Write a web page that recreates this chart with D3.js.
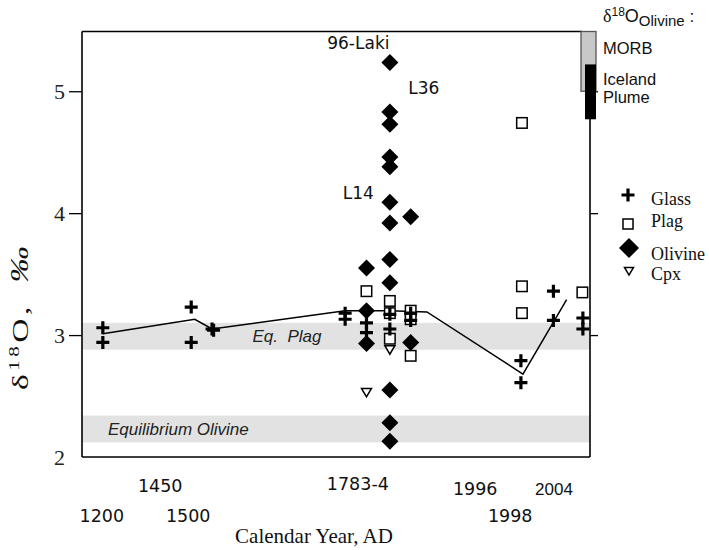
<!DOCTYPE html>
<html><head><meta charset="utf-8">
<script src="https://cdn.jsdelivr.net/npm/d3@7"></script>
<style>body{margin:0;background:#fff}svg{display:block}</style>
</head><body>
<script>
// ---- data (x = position along the nonlinear year axis, 0..100 plot units) ----
const glassX = [4.1, 4.1, 21.5, 21.5, 25.6, 25.9, 51.8, 51.8, 56.0, 56.0, 60.6, 60.6, 64.7, 64.7, 86.4, 86.4, 92.8, 92.8, 98.6, 98.6];
const glassY = [3.06, 2.94, 3.23, 2.94, 3.05, 3.04, 3.18, 3.13, 3.10, 3.02, 3.17, 3.05, 3.18, 3.12, 2.79, 2.61, 3.36, 3.12, 3.14, 3.05];
const plagX = [56.0, 60.6, 60.6, 60.6, 64.7, 64.7, 64.7, 86.6, 86.6, 86.6, 98.5];
const plagY = [3.36, 3.28, 3.18, 2.97, 3.20, 3.13, 2.83, 4.74, 3.40, 3.18, 3.35];
const olivineX = [60.6, 60.6, 60.6, 60.6, 60.6, 60.6, 60.6, 60.6, 60.6, 60.6, 60.6, 60.6, 56.0, 56.0, 56.0, 64.7, 64.7];
const olivineY = [5.235, 4.83, 4.73, 4.46, 4.38, 4.09, 3.92, 3.62, 3.43, 2.55, 2.28, 2.13, 3.55, 3.20, 2.93, 3.97, 2.94];
const cpxX = [60.6, 56.0];
const cpxY = [2.88, 2.53];
const meanX = [4.1, 22.2, 25.6, 51.8, 56.0, 60.6, 67.9, 86.8, 95.4];
const meanY = [3.01, 3.13, 3.05, 3.20, 3.20, 3.20, 3.19, 2.68, 3.29];
const yearLabels = ["1200", "1450", "1500", "1783-4", "1996", "1998", "2004"];
const yearLabelX = [3.9, 15.4, 20.9, 54.3, 77.4, 84.3, 92.9];
const yearLabelRow = [1, 0, 1, 0, 0, 1, 0];
const yTicks = [2, 3, 4, 5];
const eqPlag = [2.88, 3.10];
const eqOlivine = [2.12, 2.34];
const morbRange = [5.0, 5.49];
const icelandRange = [4.77, 5.22];
const sampleLabels = ["96-Laki", "L36", "L14"];
const sampleLabelX = [54.4, 67.3, 54.4];
const sampleLabelY = [5.35, 4.98, 4.12];
const legendNames = ["Glass", "Plag", "Olivine", "Cpx"];

// ---- layout ----
const W = 709, H = 550;
const svg = d3.select("body").append("svg").attr("width", W).attr("height", H);
const x = d3.scaleLinear().domain([0, 100]).range([82, 590]);
const y = d3.scaleLinear().domain([2, 5.49]).range([457, 31.5]);
const serif = "'Liberation Serif','Times New Roman',serif";
const sans = "'Liberation Sans',Arial,sans-serif";
const dv = "'DejaVu Sans',Verdana,sans-serif";

// bands
[[eqPlag, "Eq.  Plag", 287, "middle"], [eqOlivine, "Equilibrium Olivine", 108, "start"]].forEach(([r, t, tx, anc]) => {
  svg.append("rect").attr("x", x(0)).attr("width", x(100) - x(0))
    .attr("y", y(r[1])).attr("height", y(r[0]) - y(r[1])).attr("fill", "#e2e2e2");
  svg.append("text").attr("x", tx).attr("y", (y(r[0]) + y(r[1])) / 2 + 6)
    .attr("text-anchor", anc).attr("font-family", sans).attr("font-style", "italic")
    .attr("font-size", 17).attr("fill", "#222").style("white-space", "pre").text(t);
});

// mean line
svg.append("path").datum(d3.range(meanX.length))
  .attr("d", d3.line().x(i => x(meanX[i])).y(i => y(meanY[i])))
  .attr("fill", "none").attr("stroke", "#000").attr("stroke-width", 1.5);

// marker shapes
function drawCross(g, cx, cy, s) {
  g.append("path").attr("d", `M${cx - s / 2},${cy}H${cx + s / 2}M${cx},${cy - s / 2}V${cy + s / 2}`)
    .attr("stroke", "#000").attr("stroke-width", 3.2).attr("fill", "none");
}
function drawSquare(g, cx, cy, s) {
  g.append("rect").attr("x", cx - s / 2).attr("y", cy - s / 2).attr("width", s).attr("height", s)
    .attr("fill", "#fff").attr("stroke", "#000").attr("stroke-width", 1.5);
}
function drawDiamond(g, cx, cy, s) {
  const h = s / 2;
  g.append("path").attr("d", `M${cx},${cy - h}L${cx + h},${cy}L${cx},${cy + h}L${cx - h},${cy}Z`).attr("fill", "#000");
}
function drawTri(g, cx, cy, s) {
  const h = s / 2;
  g.append("path").attr("d", `M${cx - h},${cy - h * 0.8}L${cx + h},${cy - h * 0.8}L${cx},${cy + h * 0.9}Z`)
    .attr("fill", "#fff").attr("stroke", "#000").attr("stroke-width", 1.5);
}
const gm = svg.append("g");
plagX.forEach((v, i) => drawSquare(gm, x(v), y(plagY[i]), 10.5));
olivineX.forEach((v, i) => drawDiamond(gm, x(v), y(olivineY[i]), 17));
cpxX.forEach((v, i) => drawTri(gm, x(v), y(cpxY[i]), 10));
glassX.forEach((v, i) => drawCross(gm, x(v), y(glassY[i]), 13));

// frame / axes
const frame = svg.append("g").attr("stroke", "#000").attr("stroke-width", 1.6).attr("fill", "none");
frame.append("line").attr("x1", x(0)).attr("x2", x(0)).attr("y1", y(5.49)).attr("y2", y(2));
frame.append("line").attr("x1", x(0)).attr("x2", x(100)).attr("y1", y(2)).attr("y2", y(2));
frame.append("line").attr("x1", x(0)).attr("x2", 582).attr("y1", y(5.49)).attr("y2", y(5.49));
frame.append("line").attr("x1", x(100)).attr("x2", x(100)).attr("y1", y(5.49)).attr("y2", y(2));

const yl = svg.append("g").attr("transform", `translate(${x(0)},0)`)
  .call(d3.axisLeft(y).tickValues(yTicks).tickSize(13).tickPadding(4).tickFormat(d3.format("d")));
yl.select(".domain").remove();
yl.selectAll(".tick line").attr("stroke-width", 1.3).attr("display", d => d === 2 ? "none" : null);
yl.selectAll(".tick text").attr("font-family", serif).attr("font-size", 22).attr("fill", "#222");

const yr = svg.append("g").attr("transform", `translate(${x(100)},0)`)
  .call(d3.axisRight(y).tickValues([3, 4, 5]).tickSize(8).tickFormat(""));
yr.select(".domain").remove();
yr.selectAll(".tick line").attr("stroke-width", 1.3);

// MORB / Iceland bars
svg.append("rect").attr("x", 581).attr("width", 15).attr("y", y(morbRange[1])).attr("height", y(morbRange[0]) - y(morbRange[1]))
  .attr("fill", "#c8c8c8").attr("stroke", "#555").attr("stroke-width", 1.3);
svg.append("rect").attr("x", 585).attr("width", 11).attr("y", y(icelandRange[1])).attr("height", y(icelandRange[0]) - y(icelandRange[1]))
  .attr("fill", "#000");

const tr = svg.append("text").attr("x", 603).attr("y", 22).attr("fill", "#111");
tr.append("tspan").attr("font-family", serif).attr("font-size", 18).text("δ");
tr.append("tspan").attr("font-family", sans).attr("font-size", 12).attr("dy", -6).text("18");
tr.append("tspan").attr("font-family", sans).attr("font-size", 18).attr("dy", 6).text("O");
tr.append("tspan").attr("font-family", sans).attr("font-size", 15).attr("dy", 4).text("Olivine");
tr.append("tspan").attr("font-family", sans).attr("font-size", 17).attr("dy", -4).text(" :");
[["MORB", 54], ["Iceland", 85], ["Plume", 103]].forEach(([t, by]) =>
  svg.append("text").attr("x", 603).attr("y", by).attr("font-family", sans).attr("font-size", 16.5).attr("fill", "#111").text(t));

// sample labels
sampleLabels.forEach((t, i) => svg.append("text").attr("x", x(sampleLabelX[i])).attr("y", y(sampleLabelY[i]))
  .attr("text-anchor", "middle").attr("font-family", dv).attr("font-size", 17).attr("fill", "#111").text(t));

// year labels
yearLabels.forEach((t, i) => svg.append("text").attr("x", x(yearLabelX[i]))
  .attr("y", yearLabelRow[i] ? 522 : (t === "1783-4" ? 490 : (t === "1450" ? 492 : 495)))
  .attr("text-anchor", "middle").attr("font-family", t === "2004" ? sans : dv)
  .attr("font-size", t === "2004" ? 17 : 17.5).attr("fill", "#111").text(t));

svg.append("text").attr("x", 314).attr("y", 543).attr("text-anchor", "middle")
  .attr("font-family", serif).attr("font-size", 21).attr("fill", "#111").text("Calendar Year, AD");

// y-axis title
const yt = svg.append("text").attr("transform", "translate(28,390) rotate(-90) scale(1.4,1)").attr("text-anchor", "start")
  .attr("font-family", serif).attr("font-size", 24).attr("letter-spacing", 2.5).attr("fill", "#111");
yt.append("tspan").text("δ");
yt.append("tspan").attr("font-size", 15).attr("dy", -9).text("18");
yt.append("tspan").attr("dy", 9).text("O, ");
yt.append("tspan").attr("font-style", "italic").attr("dx", 6).attr("font-size", 26).text("‰");

// legend
const lg = svg.append("g");
const legY = [195, 224, 248, 271];
const textY = [205, 227, 260, 280];
drawCross(lg, 628, legY[0], 13);
drawSquare(lg, 628, legY[1], 10);
drawDiamond(lg, 629, legY[2], 20);
drawTri(lg, 629, legY[3], 9);
legendNames.forEach((t, i) => lg.append("text").attr("x", 651).attr("y", textY[i])
  .attr("font-family", serif).attr("font-size", 18).attr("fill", "#111").text(t));
</script>
</body></html>
